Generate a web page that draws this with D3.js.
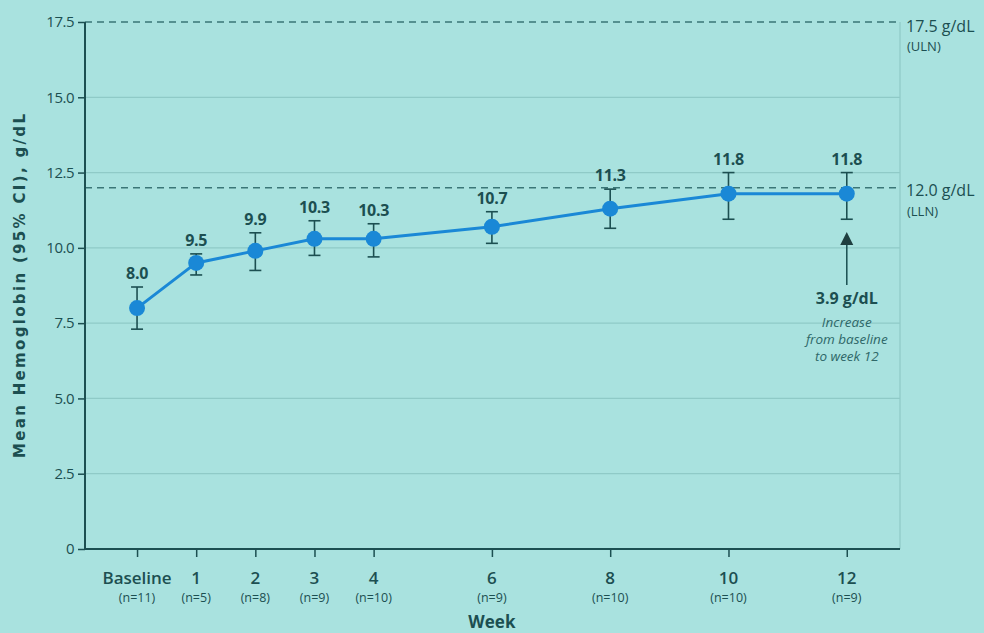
<!DOCTYPE html>
<html>
<head>
<meta charset="utf-8">
<script src="https://cdn.jsdelivr.net/npm/d3@7"></script>
<style>
  html, body { margin: 0; padding: 0; background: #a9e2df; }
  svg { display: block; }
  text { font-family: "Open Sans", "DejaVu Sans", sans-serif; }
</style>
</head>
<body>
<svg id="chart" width="984" height="633"></svg>
<script>
// Visit weeks (Baseline = week 0) and their labels
const weeks = [0, 1, 2, 3, 4, 6, 8, 10, 12];
const weekLabels = ["Baseline", "1", "2", "3", "4", "6", "8", "10", "12"];
const nLabels = ["(n=11)", "(n=5)", "(n=8)", "(n=9)", "(n=10)", "(n=9)", "(n=10)", "(n=10)", "(n=9)"];

// Mean hemoglobin with 95% CI, g/dL
const meanHb = [8.0, 9.5, 9.9, 10.3, 10.3, 10.7, 11.3, 11.8, 11.8];
const ciLow  = [7.3, 9.1, 9.25, 9.75, 9.7, 10.15, 10.65, 10.95, 10.95];
const ciHigh = [8.7, 9.8, 10.5, 10.9, 10.8, 11.2, 11.95, 12.5, 12.5];

// mean increase from baseline to week 12 (from unrounded means), g/dL
const increaseHb = 3.9;

// y axis ticks and reference limits
const yTicks = [0, 2.5, 5.0, 7.5, 10.0, 12.5, 15.0, 17.5];
const uln = 17.5;
const lln = 12.0;

const ink = "#1c4f51";
const gridCol = "#8fcac7";
const lineCol = "#1a88d6";

const svg = d3.select("#chart");
const plotL = 85, plotR = 900, plotT = 22, plotB = 549;

const x = d3.scaleLinear().domain([-0.88, 12.9]).range([plotL, plotR]);
const y = d3.scaleLinear().domain([0, 17.5]).range([plotB, plotT]);

// horizontal gridlines
svg.append("g").selectAll("line")
  .data(yTicks.filter(d => d > 0 && d < 17.5))
  .join("line")
  .attr("x1", plotL).attr("x2", plotR)
  .attr("y1", d => y(d)).attr("y2", d => y(d))
  .attr("stroke", gridCol).attr("stroke-width", 1.2);

// right border
svg.append("line")
  .attr("x1", plotR).attr("x2", plotR)
  .attr("y1", plotT).attr("y2", plotB)
  .attr("stroke", gridCol).attr("stroke-width", 1.2);

// ULN / LLN dashed lines
[uln, lln].forEach(v => {
  svg.append("line")
    .attr("x1", plotL).attr("x2", plotR)
    .attr("y1", y(v)).attr("y2", y(v))
    .attr("stroke", "#3a7677").attr("stroke-width", 1.5)
    .attr("stroke-dasharray", "7,5");
});

// y axis
const yAxis = svg.append("g")
  .attr("transform", `translate(${plotL},0)`)
  .call(d3.axisLeft(y).tickValues(yTicks)
    .tickFormat(d => d === 0 ? "0" : d3.format(".1f")(d))
    .tickSize(7).tickPadding(4));
yAxis.select(".domain").attr("stroke", ink).attr("stroke-width", 2).attr("d", `M0,${plotT}V${plotB}`);
yAxis.selectAll(".tick line").attr("stroke", ink).attr("stroke-width", 1.5);
yAxis.selectAll(".tick text").attr("fill", ink).attr("font-size", 15)
  .style("letter-spacing", "-0.5px");

// x axis
const xAxis = svg.append("g")
  .attr("transform", `translate(0,${plotB})`)
  .call(d3.axisBottom(x).tickValues(weeks).tickFormat("").tickSize(8));
xAxis.select(".domain").attr("stroke", ink).attr("stroke-width", 2).attr("d", `M${plotL},0H${plotR}`);
xAxis.selectAll(".tick line").attr("stroke", ink).attr("stroke-width", 1.5);

svg.append("g").selectAll("text")
  .data(weeks)
  .join("text")
  .attr("x", d => x(d)).attr("y", 584)
  .attr("text-anchor", "middle")
  .attr("fill", ink).attr("font-size", 17).attr("font-weight", 600)
  .text((d, i) => weekLabels[i]);

svg.append("g").selectAll("text")
  .data(weeks)
  .join("text")
  .attr("x", d => x(d)).attr("y", 602)
  .attr("text-anchor", "middle")
  .attr("fill", ink).attr("font-size", 12.5)
  .text((d, i) => nLabels[i]);

// axis titles
svg.append("text")
  .attr("x", x(6)).attr("y", 628)
  .attr("text-anchor", "middle")
  .attr("fill", ink).attr("font-size", 17).attr("font-weight", 700)
  .text("Week");

svg.append("text")
  .attr("transform", `translate(25,286) rotate(-90)`)
  .attr("text-anchor", "middle")
  .attr("fill", ink).attr("font-size", 15).attr("font-weight", 700)
  .style("font-family", "'DejaVu Sans', sans-serif")
  .attr("textLength", 344).attr("lengthAdjust", "spacing")
  .text("Mean Hemoglobin (95% CI), g/dL");

// error bars
const eb = svg.append("g").attr("stroke", ink).attr("stroke-width", 1.6);
weeks.forEach((w, i) => {
  eb.append("line").attr("x1", x(w)).attr("x2", x(w))
    .attr("y1", y(ciLow[i])).attr("y2", y(ciHigh[i]));
  [ciLow[i], ciHigh[i]].forEach(v => {
    eb.append("line").attr("x1", x(w) - 6).attr("x2", x(w) + 6)
      .attr("y1", y(v)).attr("y2", y(v));
  });
});

// mean line
svg.append("path")
  .datum(weeks.map((w, i) => [w, meanHb[i]]))
  .attr("fill", "none").attr("stroke", lineCol).attr("stroke-width", 3)
  .attr("d", d3.line().x(d => x(d[0])).y(d => y(d[1])));

svg.append("g").selectAll("circle")
  .data(weeks)
  .join("circle")
  .attr("cx", d => x(d)).attr("cy", (d, i) => y(meanHb[i]))
  .attr("r", 8).attr("fill", lineCol);

// value labels
svg.append("g").selectAll("text")
  .data(weeks)
  .join("text")
  .attr("x", d => x(d)).attr("y", (d, i) => y(ciHigh[i]) - 8)
  .attr("text-anchor", "middle")
  .attr("fill", ink).attr("font-size", 16).attr("font-weight", 700)
  .style("letter-spacing", "-0.3px")
  .text((d, i) => meanHb[i].toFixed(1));

// reference limit labels
const refLab = svg.append("g").attr("fill", ink);
refLab.append("text").attr("x", 906).attr("y", y(uln) + 10)
  .attr("font-size", 16).text("17.5 g/dL");
refLab.append("text").attr("x", 907).attr("y", y(uln) + 29)
  .attr("font-size", 13).text("(ULN)");
refLab.append("text").attr("x", 906).attr("y", y(lln) + 8)
  .attr("font-size", 16).text("12.0 g/dL");
refLab.append("text").attr("x", 907).attr("y", y(lln) + 28)
  .attr("font-size", 13).text("(LLN)");

// change-from-baseline annotation
const ax = x(12);
svg.append("line")
  .attr("x1", ax).attr("x2", ax).attr("y1", 285).attr("y2", 244)
  .attr("stroke", "#1f5556").attr("stroke-width", 1.6);
svg.append("path")
  .attr("d", `M${ax - 6.5},245 L${ax},232 L${ax + 6.5},245 Z`).attr("fill", "#1f3f40");

svg.append("text").attr("x", ax).attr("y", 304)
  .attr("text-anchor", "middle").attr("fill", ink)
  .attr("font-size", 16).attr("font-weight", 700)
  .text(`${increaseHb.toFixed(1)} g/dL`);
["Increase", "from baseline", "to week 12"].forEach((t, i) => {
  svg.append("text").attr("x", ax).attr("y", 327 + i * 17)
    .attr("text-anchor", "middle").attr("fill", "#2f6869")
    .attr("font-size", 13.5).attr("font-style", "italic")
    .text(t);
});
</script>
</body>
</html>
